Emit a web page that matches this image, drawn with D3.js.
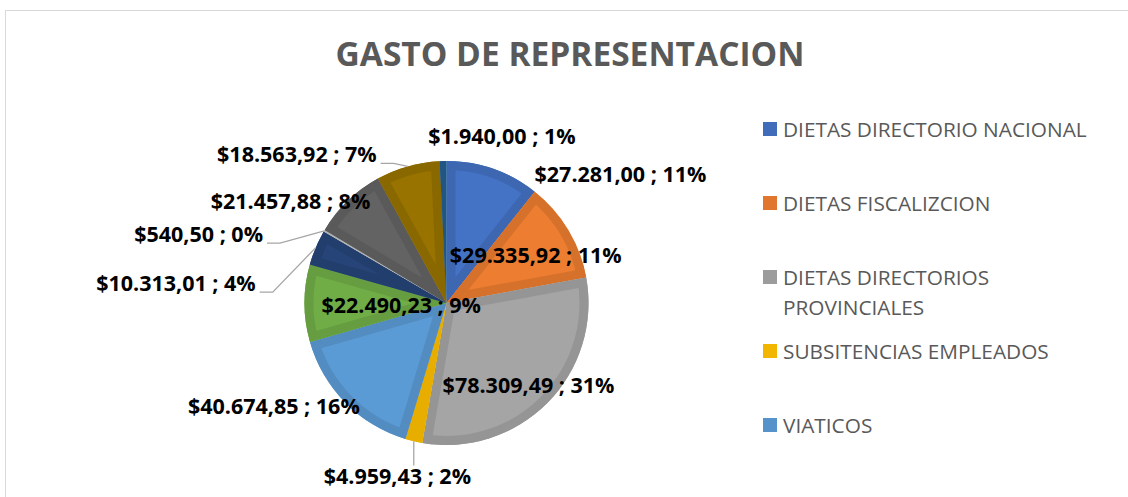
<!DOCTYPE html>
<html>
<head>
  <meta charset="utf-8">
  <title>Gasto de representacion</title>
  <script src="https://cdnjs.cloudflare.com/ajax/libs/d3/7.8.5/d3.min.js"></script>
  <style>
    body { margin: 0; background: #fff; }
    text { font-family: "Open Sans", "Liberation Sans", sans-serif; }
  </style>
</head>
<body>
<script>
// data
const categories = [
  'DIETAS DIRECTORIO NACIONAL',
  'DIETAS FISCALIZCION',
  'DIETAS DIRECTORIOS PROVINCIALES',
  'SUBSITENCIAS EMPLEADOS',
  'VIATICOS',
  'SERIE 6', 'SERIE 7', 'SERIE 8', 'SERIE 9', 'SERIE 10', 'SERIE 11'
];
const values = [27281.00, 29335.92, 78309.49, 4959.43, 40674.85, 22490.23, 10313.01, 540.50, 21457.88, 18563.92, 1940.00];
const valueLabels = ['$27.281,00', '$29.335,92', '$78.309,49', '$4.959,43', '$40.674,85', '$22.490,23', '$10.313,01', '$540,50', '$21.457,88', '$18.563,92', '$1.940,00'];
const percentLabels = ['11%', '11%', '31%', '2%', '16%', '9%', '4%', '0%', '8%', '7%', '1%'];
// only the first five made it into the legend
const legendRows = [['DIETAS DIRECTORIO NACIONAL'], ['DIETAS FISCALIZCION'], ['DIETAS DIRECTORIOS', 'PROVINCIALES'], ['SUBSITENCIAS EMPLEADOS'], ['VIATICOS']];

const colors = ['#4472C4', '#ED7D31', '#A5A5A5', '#FFC000', '#5B9BD5', '#70AD47', '#264478', '#c4c4c4', '#636363', '#997300', '#255E91'];

// where excel put each label: angle (deg, clockwise from top) and distance as share of the radius
const labelSpots = [
  {a: 53.7, r: 1.52}, {a: 62.3, r: 0.71}, {a: 135.2, r: 0.82}, {a: 195.8, r: 1.27, leader: 'down'},
  {a: 238.9, r: 1.42}, {a: 266, r: 0.32}, {a: 274, r: 1.91, leader: 'side'}, {a: 285.3, r: 1.81, leader: 'side'},
  {a: 303, r: 1.31}, {a: 314.6, r: 1.48, leader: 'side'}, {a: 18.5, r: 1.23}
];

const width = 1128, height = 497;
const cx = 446.5, cy = 303, radius = 142;

const svg = d3.select('body').append('svg')
  .attr('width', width)
  .attr('height', height);

// chart frame
svg.append('rect')
  .attr('x', 5.5).attr('y', 10.5)
  .attr('width', 1140).attr('height', 500)
  .attr('fill', '#fff')
  .attr('stroke', '#d9d9d9');

svg.append('text')
  .attr('x', 570).attr('y', 66)
  .attr('text-anchor', 'middle')
  .attr('font-size', 33.5)
  .attr('font-weight', 'bold')
  .attr('fill', '#595959')
  .text('GASTO DE REPRESENTACION');

const pie = d3.pie().sort(null).value(d => d);
const arcs = pie(values);
const arc = d3.arc().innerRadius(0).outerRadius(radius);

const g = svg.append('g').attr('transform', `translate(${cx},${cy})`);
const defs = svg.append('defs');

arcs.forEach((d, i) => {
  defs.append('clipPath').attr('id', 'clip' + i)
    .append('path').attr('d', arc(d));
});

const slices = g.selectAll('g.slice')
  .data(arcs).enter()
  .append('g').attr('class', 'slice');

slices.append('path')
  .attr('d', arc)
  .attr('fill', (d, i) => colors[i]);

// darker bevel band along the slice edges
slices.append('path')
  .attr('d', arc)
  .attr('fill', 'none')
  .attr('clip-path', (d, i) => `url(#clip${i})`)
  .attr('stroke', (d, i) => d3.color(colors[i]).darker(0.28))
  .attr('stroke-width', 18)
  .attr('stroke-linejoin', 'miter');

const rad = a => a * Math.PI / 180;
const polar = (a, r) => [cx + r * Math.sin(rad(a)), cy - r * Math.cos(rad(a))];

const labels = svg.append('g');
arcs.forEach((d, i) => {
  const s = labelSpots[i];
  const [lx, ly] = polar(s.a, s.r * radius);
  const t = labels.append('text')
    .attr('x', lx).attr('y', ly + 7)
    .attr('text-anchor', 'middle')
    .attr('font-size', 21.5)
    .attr('font-weight', 'bold')
    .attr('fill', '#000')
    .text(valueLabels[i] + ' ; ' + percentLabels[i]);

  if (!s.leader) return;
  const mid = (d.startAngle + d.endAngle) / 2 * 180 / Math.PI;
  const [ax, ay] = polar(mid, radius);
  const w = t.node().getComputedTextLength();
  let pts;
  if (s.leader === 'down') {
    pts = [[ax, ay], [ax, ly - 11]];
  } else {
    const ex = lx + w / 2 + 4;
    const by = ly + 8;
    pts = [[ex, by], [ex + 13, by], [ax, ay]];
  }
  labels.insert('path', 'text')
    .attr('d', d3.line()(pts))
    .attr('fill', 'none')
    .attr('stroke', '#a6a6a6')
    .attr('stroke-width', 1.3);
});

// legend
const legend = svg.append('g').attr('transform', 'translate(763,0)');
const rowY = d3.scaleLinear().domain([0, 4]).range([129, 425]);
legendRows.forEach((lines, i) => {
  const y = rowY(i);
  legend.append('rect')
    .attr('x', 0).attr('y', y - 7)
    .attr('width', 14).attr('height', 14)
    .attr('fill', d3.color(colors[i]).darker(0.15));
  lines.forEach((line, k) => {
    legend.append('text')
      .attr('x', 20).attr('y', y + 7.5 + k * 30)
      .attr('font-size', 20.8)
      .attr('fill', '#595959')
      .text(line);
  });
});
</script>
</body>
</html>
